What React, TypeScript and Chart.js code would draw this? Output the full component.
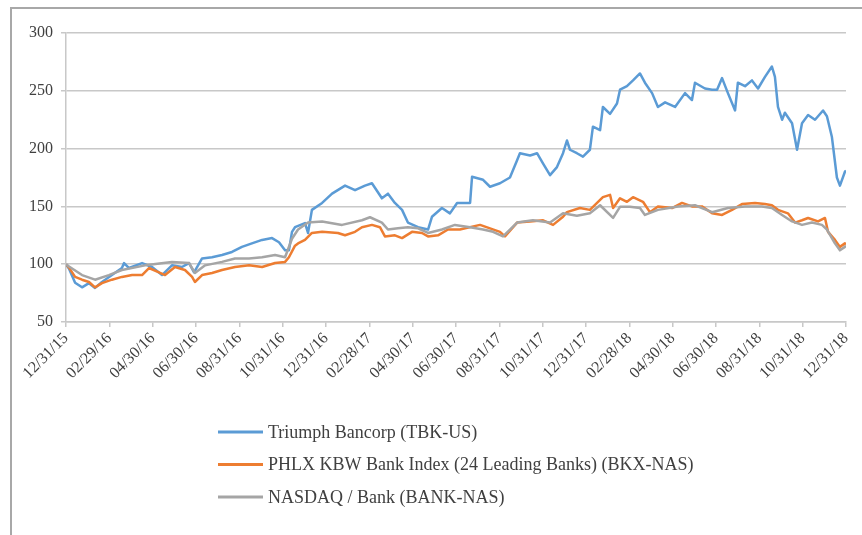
import React, { useEffect, useRef } from "react";
import { Chart, registerables } from "chart.js";

Chart.register(...registerables);

// Tick labels on the date axis (one every two months, x = months since 12/31/15)
const dateLabels = [
  "12/31/15", "02/29/16", "04/30/16", "06/30/16", "08/31/16", "10/31/16",
  "12/31/16", "02/28/17", "04/30/17", "06/30/17", "08/31/17", "10/31/17",
  "12/31/17", "02/28/18", "04/30/18", "06/30/18", "08/31/18", "10/31/18", "12/31/18",
];

const seriesNames = [
  "Triumph Bancorp (TBK-US)",
  "PHLX KBW Bank Index (24 Leading Banks) (BKX-NAS)",
  "NASDAQ / Bank (BANK-NAS)",
];

// Triumph Bancorp (TBK-US): months since 12/31/15 and indexed value
const tbkMonths = [
  0, 0.14, 0.42, 0.74, 1.06, 1.34, 1.66, 2.12, 2.58, 2.68, 2.91, 3.51, 3.97, 4.43, 4.89, 5.35,
  5.68, 5.91, 6.28, 6.74, 7.2, 7.66, 8.12, 8.58, 9.05, 9.51, 9.83, 10.11, 10.29, 10.43, 10.57,
  11.03, 11.17, 11.35, 11.82,
  12.28, 12.88, 13.34, 13.8, 14.12, 14.58, 14.86, 15.18, 15.51, 15.78, 16.25, 16.71, 16.89,
  17.35, 17.72, 18.05, 18.65, 18.74, 19.25, 19.57, 20.03, 20.49, 20.82, 20.95, 21.42, 21.74,
  22.02, 22.34, 22.66, 22.94, 23.12, 23.26, 23.58, 23.86, 24.18, 24.32, 24.65, 24.78, 25.11,
  25.43, 25.57, 25.89, 26.17, 26.49, 26.72, 27.05, 27.32, 27.65, 28.11, 28.57, 28.89, 29.03,
  29.49, 29.82, 30.05, 30.28, 30.55, 30.88, 31.01, 31.34, 31.66, 31.94, 32.26, 32.58, 32.72,
  32.86, 33.05, 33.18, 33.51, 33.74, 33.97, 34.25, 34.57, 34.94, 35.12, 35.35, 35.58, 35.72,
  35.95, 36,
];
const tbkValues = [
  100, 96, 84, 80, 83.6, 79.5, 84.6, 90.6, 96.7, 101, 96.7, 101, 97.6, 90.6, 99, 97.6,
  101, 93, 105, 106, 108, 110.6, 115, 118, 121, 122.6, 119, 112, 112, 128, 132,
  135.6, 127, 147, 153,
  161, 168, 164, 168, 170, 157, 161, 153, 147, 136, 132, 130, 141,
  148.6, 144, 153, 153, 175.6, 173, 167, 170, 175, 190, 196, 194, 196,
  187, 177, 184, 196, 207, 199, 196, 193, 199, 219, 216, 236, 230,
  239, 251, 254, 259, 265, 257, 248, 236, 240, 236, 248, 242, 257,
  252, 251, 251, 261, 248, 233, 257, 254, 259, 252, 262, 271, 262,
  236, 225, 231, 222, 199, 222, 229, 225, 233, 228, 210, 175, 168,
  180, 181,
];

// PHLX KBW Bank Index (BKX-NAS)
const bkxMonths = [
  0, 0.14, 0.42, 0.74, 1.06, 1.34, 1.66, 2.12, 2.58, 3.05, 3.51, 3.83, 4.29, 4.57, 5.03, 5.49,
  5.82, 5.95, 6.28, 6.74, 7.2, 7.8, 8.45, 9.05, 9.65, 10.11, 10.29, 10.57, 10.71, 11.03, 11.35,
  11.82, 12.55, 12.88, 13.34, 13.66, 14.12, 14.49, 14.72, 15.18, 15.51, 15.97, 16.43, 16.71, 17.17,
  17.63, 18.18, 19.11, 19.57, 20.03, 20.26, 20.82, 21.42, 22.02, 22.48, 22.94, 23.12, 23.72,
  24.18, 24.51, 24.78, 25.11, 25.25, 25.57, 25.89, 26.17, 26.63, 26.95, 27.32, 27.97, 28.43,
  28.89, 29.35, 29.82, 30.28, 30.74, 31.2, 31.8, 32.26, 32.58, 32.86, 33.32, 33.65, 33.97,
  34.25, 34.71, 35.03, 35.17, 35.49, 35.72, 35.95, 36,
];
const bkxValues = [
  100, 97, 89, 86.6, 84.6, 80, 83.6, 86.6, 89, 90.6, 90.6, 96.7, 93, 90.6, 97.6, 95,
  89, 84.6, 90.6, 92.4, 95, 97.6, 99, 97.6, 101, 102, 106, 116, 118, 121, 127,
  128, 127, 125, 128, 132, 134, 132, 124, 125, 122.6, 128, 127, 124, 125,
  130, 130, 134, 131, 128, 124, 136, 137, 138, 134, 141, 145, 148.6,
  147, 153, 158, 160, 148.6, 157, 154, 158, 154, 145, 150, 148.6, 153,
  150, 150, 144, 142.6, 147, 152, 153, 152, 151, 147, 144, 136, 138,
  140, 137, 140, 128, 121, 115, 118, 117,
];

// NASDAQ / Bank (BANK-NAS)
const bankMonths = [
  0, 0.14, 0.74, 1.34, 1.98, 2.58, 3.65, 4.89, 5.68, 5.95, 6.42, 7.2, 7.8, 8.45, 9.05, 9.65,
  10.11, 10.43, 10.71, 11.17, 11.82, 12.74, 13.66, 14.03, 14.58, 14.86, 15.32, 15.78, 16.25,
  16.71, 17.35, 17.95, 18.65, 19.25, 19.71, 20.17, 20.82, 21.55, 22.34, 22.94, 23.58, 24.18,
  24.65, 25.25, 25.57, 26.03, 26.49, 26.72, 27.32, 28.25, 29.03, 29.82, 30.55, 31.34, 32.12,
  32.58, 33.05, 33.51, 33.97, 34.43, 34.89, 35.12, 35.49, 35.72, 35.95, 36,
];
const bankValues = [
  100, 98, 90.6, 86.6, 90.6, 95, 99, 102, 101, 92.4, 99, 102, 105, 105, 106, 108,
  106, 122, 130, 136, 137, 134, 138, 140.6, 136, 130, 131, 132, 131,
  127, 130, 134, 132, 130, 128, 124, 136, 138, 136, 144, 142, 144,
  151, 140, 149.6, 149.6, 148.6, 142.6, 147, 150, 151, 145, 148.6, 150, 150,
  148.6, 142.6, 137, 134, 136, 134, 130, 118, 112, 115, 116,
];

const seriesColors = ["#5B9BD5", "#ED7D31", "#A5A5A5"];
const yMin = 50;
const yMax = 300;
const yStep = 50;

const FONT = "'Liberation Serif', 'Times New Roman', serif";
const TEXT_COLOR = "#404040";
const GRID_COLOR = "#c8c8c8";

const stackedLegend = {
  id: "stackedLegend",
  afterDraw(chart: any) {
    const { ctx, chartArea } = chart;
    const x0 = chartArea.left + 152;
    const y0 = chartArea.bottom + 110;
    const rowGap = 32.5;
    ctx.save();
    ctx.font = `18px ${FONT}`;
    ctx.textBaseline = "middle";
    ctx.textAlign = "left";
    seriesNames.forEach((name, i) => {
      const y = y0 + i * rowGap;
      ctx.strokeStyle = seriesColors[i];
      ctx.lineWidth = 3;
      ctx.beginPath();
      ctx.moveTo(x0, y);
      ctx.lineTo(x0 + 45, y);
      ctx.stroke();
      ctx.fillStyle = TEXT_COLOR;
      ctx.fillText(name, x0 + 50, y + 1);
    });
    ctx.restore();
  },
};

export default function App() {
  const canvasRef = useRef<HTMLCanvasElement | null>(null);

  useEffect(() => {
    if (!canvasRef.current) return;
    const toPoints = (ms: number[], vs: number[]) => ms.map((m, i) => ({ x: m, y: vs[i] }));
    const chart = new Chart(canvasRef.current, {
      type: "line",
      data: {
        datasets: [
          { label: seriesNames[0], data: toPoints(tbkMonths, tbkValues), borderColor: seriesColors[0], order: 3 },
          { label: seriesNames[1], data: toPoints(bkxMonths, bkxValues), borderColor: seriesColors[1], order: 2 },
          { label: seriesNames[2], data: toPoints(bankMonths, bankValues), borderColor: seriesColors[2], order: 1 },
        ].map((d) => ({ ...d, borderWidth: 2.5, pointRadius: 0, tension: 0, fill: false, borderJoinStyle: "round" as const })),
      },
      options: {
        responsive: false,
        animation: false,
        layout: { padding: { left: 0, top: 33, right: 16, bottom: 0 } },
        plugins: { legend: { display: false }, tooltip: { enabled: false } },
        scales: {
          x: {
            type: "linear",
            min: 0,
            max: 36,
            afterFit: (scale: any) => { scale.height = 213; },
            ticks: {
              stepSize: 2,
              autoSkip: false,
              minRotation: 45,
              maxRotation: 45,
              padding: 2,
              color: TEXT_COLOR,
              font: { family: FONT, size: 16 },
              callback: (v: any) => dateLabels[Math.round(Number(v) / 2)] ?? "",
            },
            grid: { drawOnChartArea: false, drawTicks: true, tickLength: 5, color: GRID_COLOR, lineWidth: 1.5 },
            border: { color: GRID_COLOR, width: 1.5 },
          },
          y: {
            type: "linear",
            min: yMin,
            max: yMax,
            afterFit: (scale: any) => { scale.width = 66; },
            ticks: {
              stepSize: yStep,
              padding: 8,
              color: TEXT_COLOR,
              font: { family: FONT, size: 16 },
            },
            grid: { color: GRID_COLOR, lineWidth: 1.5, tickLength: 5 },
            border: { color: GRID_COLOR, width: 1.5 },
          },
        },
      },
      plugins: [stackedLegend],
    });
    return () => chart.destroy();
  }, []);

  return (
    <div style={{ position: "absolute", left: 0, top: 0, width: 862, height: 535, background: "#fff" }}>
      <div
        style={{
          position: "absolute",
          left: 10,
          top: 7,
          right: 0,
          bottom: 0,
          borderLeft: "2px solid #a8a8a8",
          borderTop: "2px solid #a8a8a8",
        }}
      />
      <canvas ref={canvasRef} width={862} height={535} style={{ position: "absolute", left: 0, top: 0 }} />
    </div>
  );
}
